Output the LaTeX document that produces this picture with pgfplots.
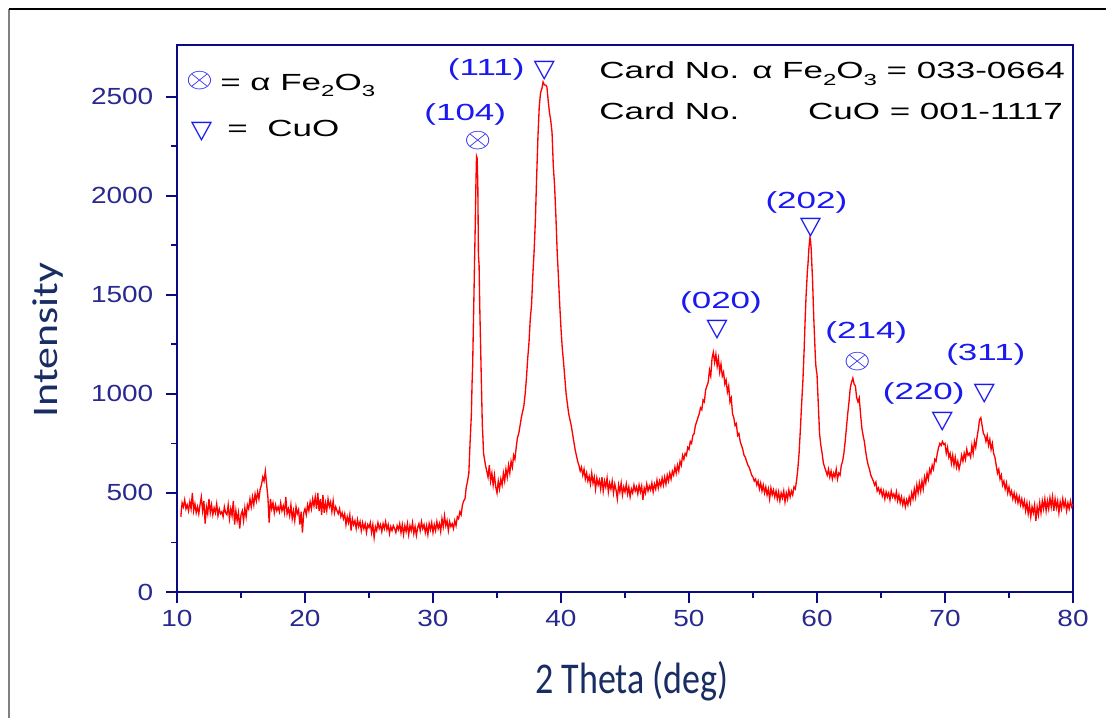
\documentclass[border=0pt]{standalone}
\usepackage{pgfplots}
\pgfplotsset{compat=1.18}
\usepackage{fontspec}
\setmainfont{Liberation Sans}
\newfontfamily\calib{Carlito}
\newfontfamily\dvs{DejaVu Sans}
\definecolor{axnavy}{RGB}{10,10,130}
\definecolor{ticknavy}{RGB}{40,40,145}
\definecolor{lblblue}{RGB}{25,45,100}
\definecolor{annblue}{RGB}{25,25,240}
\newcommand{\sub}[1]{\raisebox{-0.5ex}{\fontsize{12}{12}\selectfont #1}}
\newcommand{\wide}[1]{\scalebox{1.5}[1]{#1}}
\newcommand{\otim}{\scalebox{1.25}[1]{\fontsize{22}{22}\selectfont$\otimes$}}
\newcommand{\tri}{\scalebox{1.1}[1]{\dvs\fontsize{19}{19}\selectfont ▽}}
\newcommand{\af}{\fontsize{17.5}{17.5}\selectfont}

\begin{document}
\begin{tikzpicture}
\begin{scope}[x=0.75pt,y=0.75pt]
\useasboundingbox (0,0) rectangle (1106,718);
\draw[gray, line width=0.9pt] (9,0) -- (9,709);
\draw[black, line width=0.8pt] (9,709) -- (1106,709);
\end{scope}
\begin{axis}[
  at={(132.75pt,94.5pt)}, anchor=south west, scale only axis,
  width=672pt, height=410pt,
  xmin=10, xmax=80, ymin=0, ymax=2760,
  xtick={10,20,...,80}, ytick={0,500,...,2500},
  minor x tick num=1, minor y tick num=1,
  xtick pos=bottom, ytick pos=left, tick align=outside,
  major tick length=8.25pt, minor tick length=4.5pt,
  every tick/.style={axnavy, line width=1.4pt},
  axis line style={axnavy, line width=1.4pt},
  scaled ticks=false,
  /pgf/number format/1000 sep={},
  /pgf/number format/assume math mode=true,
  tick label style={font=\af, text=ticknavy},
  xticklabel style={yshift=-2pt},
  yticklabel style={xshift=-6pt},
  xticklabel={\scalebox{1.2}[1]{\pgfmathprintnumber{\tick}}},
  yticklabel={\scalebox{1.2}[1]{\pgfmathprintnumber{\tick}}},
]
\addplot[red, line width=1pt] coordinates {
(10.3,380) (10.4,450) (10.5,430) (10.6,465) (10.7,420) (10.8,440) (10.9,410)
(11.0,455) (11.1,420) (11.2,500) (11.3,410) (11.4,445) (11.5,400) (11.6,430) (11.7,395) (11.8,440) (11.9,480)
(12.0,410) (12.1,460) (12.2,345) (12.3,430) (12.4,395) (12.5,470) (12.6,400) (12.7,440) (12.8,390) (12.9,425)
(13.0,400) (13.1,445) (13.2,385) (13.3,420) (13.4,395) (13.5,405) (13.6,380) (13.7,430) (13.8,400) (13.9,390)
(14.0,440) (14.1,370) (14.2,420) (14.3,385) (14.4,460) (14.5,340) (14.6,410) (14.7,360) (14.8,400) (14.9,320)
(15.0,390) (15.1,410) (15.2,360) (15.3,425) (15.4,380) (15.5,440) (15.6,420) (15.7,470) (15.8,430) (15.9,480)
(16.0,440) (16.1,495) (16.2,460) (16.3,505) (16.4,470) (16.5,520) (16.6,540) (16.7,580) (16.8,560) (16.9,610)
(17.0,545) (17.1,480) (17.2,350) (17.3,470) (17.4,420) (17.5,450) (17.6,400) (17.7,440) (17.8,410) (17.9,430)
(18.0,405) (18.1,450) (18.2,410) (18.3,435) (18.4,400) (18.5,480) (18.6,395) (18.7,420) (18.8,385) (18.9,440)
(19.0,370) (19.1,410) (19.2,360) (19.3,430) (19.4,395) (19.5,415) (19.6,340) (19.7,405) (19.8,300) (19.9,400)
(20.0,420) (20.1,390) (20.2,440) (20.3,410) (20.4,455) (20.5,420) (20.6,470) (20.7,435) (20.8,480) (20.9,420)
(21.0,500) (21.1,410) (21.2,470) (21.3,390) (21.4,490) (21.5,400) (21.6,450) (21.7,410) (21.8,470) (21.9,430)
(22.0,455) (22.1,405) (22.2,460) (22.3,400) (22.4,430) (22.5,410) (22.6,395) (22.7,420) (22.8,380) (22.9,400)
(23.0,370) (23.1,395) (23.2,340) (23.3,380) (23.4,350) (23.5,390) (23.6,310) (23.7,370) (23.8,340) (23.9,360)
(24.0,320) (24.1,365) (24.2,330) (24.3,355) (24.4,310) (24.5,350) (24.6,320) (24.7,345) (24.8,300) (24.9,340)
(25.0,325) (25.1,350) (25.2,300) (25.3,340) (25.4,275) (25.5,330) (25.6,310) (25.7,350) (25.8,320) (25.9,340)
(26.0,305) (26.1,345) (26.2,320) (26.3,355) (26.4,315) (26.5,340) (26.6,295) (26.7,330) (26.8,310) (26.9,335)
(27.0,320) (27.1,300) (27.2,335) (27.3,315) (27.4,345) (27.5,300) (27.6,340) (27.7,290) (27.8,335) (27.9,305)
(28.0,345) (28.1,290) (28.2,335) (28.3,310) (28.4,350) (28.5,295) (28.6,330) (28.7,285) (28.8,325) (28.9,345)
(29.0,310) (29.1,355) (29.2,320) (29.3,340) (29.4,300) (29.5,335) (29.6,290) (29.7,345) (29.8,315) (29.9,350)
(30.0,300) (30.1,340) (30.2,310) (30.3,355) (30.4,320) (30.5,345) (30.6,305) (30.7,370) (30.8,330) (30.9,385)
(31.0,335) (31.1,360) (31.2,310) (31.3,355) (31.4,330) (31.5,345) (31.6,320) (31.7,360) (31.8,335) (31.9,380)
(32.0,370) (32.1,405) (32.2,390) (32.3,440) (32.4,460) (32.5,470) (32.6,530) (32.7,560) (32.8,600) (32.9,760)
(33.0,900) (33.05,1050) (33.1,1150) (33.15,1330) (33.2,1500) (33.25,1680) (33.3,1850) (33.35,2050) (33.4,2200) (33.45,2190)
(33.5,2060) (33.55,1700) (33.6,1650) (33.65,1450) (33.7,1300) (33.75,1150) (33.8,1000) (33.85,850) (33.9,780) (33.95,700)
(34.0,680) (34.1,640) (34.2,610) (34.3,580) (34.4,640) (34.5,560) (34.6,600) (34.7,540) (34.8,590) (34.9,530)
(35.0,500) (35.1,560) (35.2,520) (35.3,570) (35.4,540) (35.5,600) (35.6,560) (35.7,620) (35.8,580) (35.9,640)
(36.0,600) (36.1,660) (36.2,630) (36.3,690) (36.4,670) (36.5,730) (36.6,780) (36.7,800) (36.8,840) (36.9,880)
(37.0,910) (37.1,940) (37.2,1000) (37.3,1080) (37.4,1180) (37.5,1260) (37.6,1380) (37.7,1450) (37.8,1600) (37.9,1720)
(38.0,1880) (38.1,2100) (38.2,2300) (38.3,2450) (38.4,2520) (38.5,2540) (38.6,2575) (38.7,2560) (38.8,2560) (38.9,2550)
(39.0,2480) (39.1,2420) (39.2,2380) (39.3,2320) (39.4,2150) (39.5,2050) (39.6,1900) (39.7,1720) (39.8,1590) (39.9,1450)
(40.0,1330) (40.1,1230) (40.2,1160) (40.3,1080) (40.4,1000) (40.5,950) (40.6,900) (40.7,870) (40.8,840) (40.9,800)
(41.0,760) (41.1,720) (41.2,690) (41.3,660) (41.4,640) (41.5,610) (41.6,630) (41.7,590) (41.8,620) (41.9,570)
(42.0,600) (42.1,560) (42.2,585) (42.3,545) (42.4,600) (42.5,550) (42.6,580) (42.7,520) (42.8,575) (42.9,540)
(43.0,565) (43.1,520) (43.2,580) (43.3,510) (43.4,560) (43.5,530) (43.6,575) (43.7,505) (43.8,550) (43.9,520)
(44.0,560) (44.1,500) (44.2,545) (44.3,515) (44.4,470) (44.5,540) (44.6,505) (44.7,550) (44.8,490) (44.9,530)
(45.0,505) (45.1,545) (45.2,495) (45.3,530) (45.4,480) (45.5,520) (45.6,500) (45.7,540) (45.8,510) (45.9,530)
(46.0,495) (46.1,540) (46.2,505) (46.3,535) (46.4,465) (46.5,525) (46.6,500) (46.7,545) (46.8,510) (46.9,535)
(47.0,515) (47.1,550) (47.2,505) (47.3,545) (47.4,520) (47.5,565) (47.6,525) (47.7,560) (47.8,535) (47.9,575)
(48.0,540) (48.1,580) (48.2,545) (48.3,590) (48.4,560) (48.5,600) (48.6,570) (48.7,610) (48.8,590) (48.9,630)
(49.0,600) (49.1,640) (49.2,610) (49.3,660) (49.4,640) (49.5,690) (49.6,670) (49.7,700) (49.8,690) (49.9,730)
(50.0,720) (50.1,760) (50.2,750) (50.3,790) (50.4,800) (50.5,840) (50.6,860) (50.7,880) (50.8,900) (50.9,930)
(51.0,920) (51.1,970) (51.2,960) (51.3,1020) (51.4,1040) (51.5,1060) (51.6,1120) (51.7,1090) (51.8,1180) (51.9,1210)
(52.0,1160) (52.1,1200) (52.2,1140) (52.3,1180) (52.4,1110) (52.5,1150) (52.6,1090) (52.7,1110) (52.8,1050) (52.9,1070)
(53.0,1010) (53.1,1040) (53.2,960) (53.3,980) (53.4,900) (53.5,880) (53.6,840) (53.7,850) (53.8,790) (53.9,800)
(54.0,760) (54.1,740) (54.2,720) (54.3,690) (54.4,680) (54.5,660) (54.6,640) (54.7,630) (54.8,610) (54.9,590)
(55.0,580) (55.1,560) (55.2,570) (55.3,540) (55.4,560) (55.5,520) (55.6,550) (55.7,510) (55.8,540) (55.9,500)
(56.0,530) (56.1,490) (56.2,520) (56.3,470) (56.4,525) (56.5,490) (56.6,515) (56.7,480) (56.8,510) (56.9,470)
(57.0,505) (57.1,460) (57.2,500) (57.3,475) (57.4,510) (57.5,455) (57.6,500) (57.7,470) (57.8,515) (57.9,480)
(58.0,510) (58.1,490) (58.2,530) (58.3,520) (58.4,560) (58.5,620) (58.6,700) (58.7,820) (58.8,950) (58.9,1070)
(58.95,1150) (59.0,1230) (59.05,1330) (59.1,1420) (59.15,1500) (59.2,1560) (59.25,1620) (59.3,1660) (59.35,1720) (59.4,1760)
(59.45,1790) (59.5,1770) (59.55,1730) (59.6,1650) (59.65,1580) (59.7,1480) (59.75,1380) (59.8,1300) (59.85,1220) (59.9,1150)
(59.95,1120) (60.0,1100) (60.1,950) (60.2,800) (60.3,740) (60.4,700) (60.5,650) (60.6,630) (60.7,610) (60.8,590) (60.9,620)
(61.0,580) (61.1,610) (61.2,570) (61.3,600) (61.4,580) (61.5,620) (61.6,570) (61.7,600) (61.8,590) (61.9,640)
(62.0,660) (62.1,700) (62.2,760) (62.3,830) (62.4,900) (62.5,960) (62.6,1030) (62.7,1060) (62.8,1080) (62.9,1050)
(63.0,1040) (63.1,980) (63.2,960) (63.3,980) (63.4,900) (63.5,830) (63.6,790) (63.7,760) (63.8,710) (63.9,670)
(64.0,640) (64.1,620) (64.2,590) (64.3,575) (64.4,560) (64.5,540) (64.6,555) (64.7,510) (64.8,525) (64.9,500)
(65.0,520) (65.1,485) (65.2,510) (65.3,470) (65.4,505) (65.5,480) (65.6,500) (65.7,465) (65.8,510) (65.9,480)
(66.0,495) (66.1,470) (66.2,505) (66.3,460) (66.4,490) (66.5,450) (66.6,480) (66.7,440) (66.8,470) (66.9,430)
(67.0,465) (67.1,440) (67.2,480) (67.3,450) (67.4,500) (67.5,470) (67.6,520) (67.7,480) (67.8,540) (67.9,500)
(68.0,550) (68.1,510) (68.2,560) (68.3,520) (68.4,580) (68.5,550) (68.6,600) (68.7,570) (68.8,620) (68.9,600)
(69.0,640) (69.1,620) (69.2,670) (69.3,660) (69.4,700) (69.5,730) (69.6,750) (69.7,740) (69.8,760) (69.9,745)
(70.0,750) (70.1,700) (70.2,730) (70.3,680) (70.4,700) (70.5,650) (70.6,690) (70.7,640) (70.8,680) (70.9,630)
(71.0,660) (71.1,620) (71.2,650) (71.3,690) (71.4,660) (71.5,700) (71.6,670) (71.7,720) (71.8,690) (71.9,700)
(72.0,680) (72.1,740) (72.2,700) (72.3,760) (72.4,730) (72.5,780) (72.6,820) (72.7,870) (72.8,880) (72.9,840)
(73.0,800) (73.1,790) (73.2,760) (73.3,790) (73.4,740) (73.5,770) (73.6,720) (73.7,750) (73.8,700) (73.9,680)
(74.0,640) (74.1,600) (74.2,620) (74.3,570) (74.4,590) (74.5,540) (74.6,560) (74.7,520) (74.8,550) (74.9,500)
(75.0,530) (75.1,490) (75.2,510) (75.3,470) (75.4,500) (75.5,460) (75.6,490) (75.7,450) (75.8,480) (75.9,440)
(76.0,470) (76.1,430) (76.2,460) (76.3,410) (76.4,450) (76.5,395) (76.6,440) (76.7,380) (76.8,430) (76.9,400)
(77.0,440) (77.1,360) (77.2,430) (77.3,390) (77.4,450) (77.5,400) (77.6,460) (77.7,420) (77.8,470) (77.9,410)
(78.0,460) (78.1,420) (78.2,475) (78.3,430) (78.4,480) (78.5,410) (78.6,470) (78.7,425) (78.8,460) (78.9,400)
(79.0,455) (79.1,420) (79.2,470) (79.3,430) (79.4,460) (79.5,410) (79.6,450) (79.7,420) (79.8,460) (79.9,430) (80.0,445)
};
\begin{scope}[every node/.style={text=annblue, font=\af, inner sep=0pt}]
\node at (axis cs:32.52,2409) {\wide{(104)}};
\node at (axis cs:33.5,2278) {\otim};
\node at (axis cs:34.16,2636) {\wide{(111)}};
\node at (axis cs:38.7,2631) {\tri};
\node at (axis cs:52.5,1460) {\wide{(020)}};
\node at (axis cs:52.19,1323) {\tri};
\node at (axis cs:59.17,1965) {\wide{(202)}};
\node at (axis cs:59.5,1836) {\tri};
\node at (axis cs:63.85,1308) {\wide{(214)}};
\node at (axis cs:63.15,1162) {\otim};
\node at (axis cs:68.34,1002) {\wide{(220)}};
\node at (axis cs:69.79,859) {\tri};
\node at (axis cs:73.19,1197) {\wide{(311)}};
\node at (axis cs:73.07,1000) {\tri};
\end{scope}
\end{axis}
\begin{scope}[x=0.75pt,y=0.75pt]
% legend
\node[text=annblue, inner sep=0pt] at (199.5,637) {\otim};
\node[anchor=base west, inner sep=0pt, font=\af] at (220,627.3) {\wide{= α Fe\sub{2}O\sub{3}}};
\node[text=annblue, inner sep=0pt] at (201.5,586) {\tri};
\node[anchor=base west, inner sep=0pt, font=\af] at (227,581.3) {\wide{=}};
\node[anchor=base west, inner sep=0pt, font=\af] at (267,581.3) {\wide{CuO}};
% card numbers
\node[anchor=base west, inner sep=0pt, font=\af] at (599,639) {\wide{Card No. α Fe\sub{2}O\sub{3} = 033-0664}};
\node[anchor=base west, inner sep=0pt, font=\af] at (599,598) {\wide{Card No.}};
\node[anchor=base east, inner sep=0pt, font=\af] at (1063,598) {\wide{CuO = 001-1117}};
% axis labels
\node[anchor=base, inner sep=0pt, text=lblblue, font=\calib\fontsize{27}{27}\selectfont] at (632,25) {\scalebox{1}[1.22]{2 Theta (deg)}};
\node[anchor=base, rotate=90, inner sep=0pt, text=lblblue, font=\calib\fontsize{27}{27}\selectfont] at (57,378) {\scalebox{1.22}[1]{Intensity}};
\end{scope}
\end{tikzpicture}
\end{document}
